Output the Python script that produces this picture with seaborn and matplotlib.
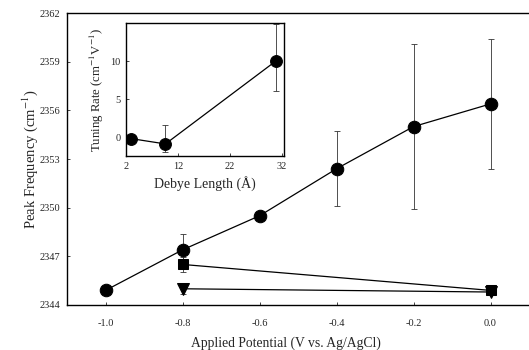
import seaborn as sns
import matplotlib.pyplot as plt
import numpy as np
import pandas as pd

# main panel data
potential = [-1.0, -0.8, -0.6, -0.4, -0.2, 0.0]
circle_freq = [2344.9, 2347.4, 2349.5, 2352.4, 2355.0, 2356.4]
circle_err = [0.0, 1.0, 0.0, 2.3, 5.1, 4.0]

square_pot = [-0.8, 0.0]
square_freq = [2346.5, 2344.9]
square_err = [0.45, 0.0]

tri_pot = [-0.8, 0.0]
tri_freq = [2345.0, 2344.8]
tri_err = [0.3, 0.0]

# inset data
debye = [3.0, 9.6, 30.8]
tuning = [-0.2, -0.9, 10.0]
tuning_err_lo = [0.0, 1.0, 4.0]
tuning_err_hi = [0.0, 2.5, 4.9]

sns.set_style("ticks")
plt.rcParams["font.family"] = ["Liberation Serif", "DejaVu Serif"]
plt.rcParams["mathtext.fontset"] = "stix"

fig = plt.figure(figsize=(5.29, 3.5), dpi=100)
ax = fig.add_axes([0.1267, 0.1286, 0.8733, 0.834])

circles = pd.DataFrame({"x": potential, "y": circle_freq})
squares = pd.DataFrame({"x": square_pot, "y": square_freq})
tris = pd.DataFrame({"x": tri_pot, "y": tri_freq})

ax.errorbar(potential, circle_freq, yerr=circle_err, fmt="none", ecolor="#333333",
            elinewidth=0.6, capsize=2, capthick=0.6, zorder=1)
ax.errorbar(square_pot, square_freq, yerr=square_err, fmt="none", ecolor="#333333",
            elinewidth=0.6, capsize=2, capthick=0.6, zorder=1)
ax.errorbar(tri_pot, tri_freq, yerr=tri_err, fmt="none", ecolor="#333333",
            elinewidth=0.6, capsize=2, capthick=0.6, zorder=1)

sns.lineplot(data=tris, x="x", y="y", ax=ax, color="black", lw=0.9,
             marker="v", markersize=8, markeredgecolor="black", zorder=2)
sns.lineplot(data=squares, x="x", y="y", ax=ax, color="black", lw=0.9,
             marker="s", markersize=7.5, markeredgecolor="black", zorder=3)
sns.lineplot(data=circles, x="x", y="y", ax=ax, color="black", lw=0.9,
             marker="o", markersize=9, markeredgecolor="black", zorder=4)

ax.set_xlim(-1.1, 0.1)
ax.set_ylim(2344, 2362)
ax.set_xticks(np.arange(-1.0, 0.01, 0.2))
ax.set_xticklabels(["-1.0", "-0.8", "-0.6", "-0.4", "-0.2", "0.0"])
ax.set_yticks(np.arange(2344, 2363, 3))
ax.tick_params(direction="in", length=2, width=0.6, labelsize=7.5)
ax.tick_params(axis="x", pad=10)
ax.tick_params(axis="y", pad=5)
for s in ["left", "bottom", "top"]:
    ax.spines[s].set_linewidth(1.0)
    ax.spines[s].set_color("black")
ax.spines["right"].set_visible(False)
ax.set_xlabel("Applied Potential (V vs. Ag/AgCl)", fontsize=9.8, labelpad=7)
ax.xaxis.set_label_coords(0.473, -0.107)
ax.set_ylabel("Peak Frequency (cm$^{-1}$)", fontsize=10.5)
ax.yaxis.set_label_coords(-0.058, 0.5)

# inset
ins = fig.add_axes([0.238, 0.554, 0.299, 0.380])
inset_df = pd.DataFrame({"x": debye, "y": tuning})
ins.errorbar(debye, tuning, yerr=[tuning_err_lo, tuning_err_hi], fmt="none",
             ecolor="#333333", elinewidth=0.6, capsize=2, capthick=0.6, zorder=1)
sns.lineplot(data=inset_df, x="x", y="y", ax=ins, color="black", lw=0.9,
             marker="o", markersize=8.5, markeredgecolor="black", zorder=3)
ins.set_xlim(2, 32.4)
ins.set_ylim(-2.5, 15)
ins.set_xticks([2, 12, 22, 32])
ins.set_yticks([0, 5, 10])
ins.tick_params(direction="in", length=2, width=0.6, labelsize=7.5, pad=4)
for s in ins.spines.values():
    s.set_linewidth(1.0)
    s.set_color("black")
ins.set_xlabel("Debye Length (\u00c5)", fontsize=10, labelpad=4)
ins.set_ylabel("Tuning Rate (cm$^{-1}$V$^{-1}$)", fontsize=9.2, labelpad=3)

fig.savefig("out.png", dpi=100)
